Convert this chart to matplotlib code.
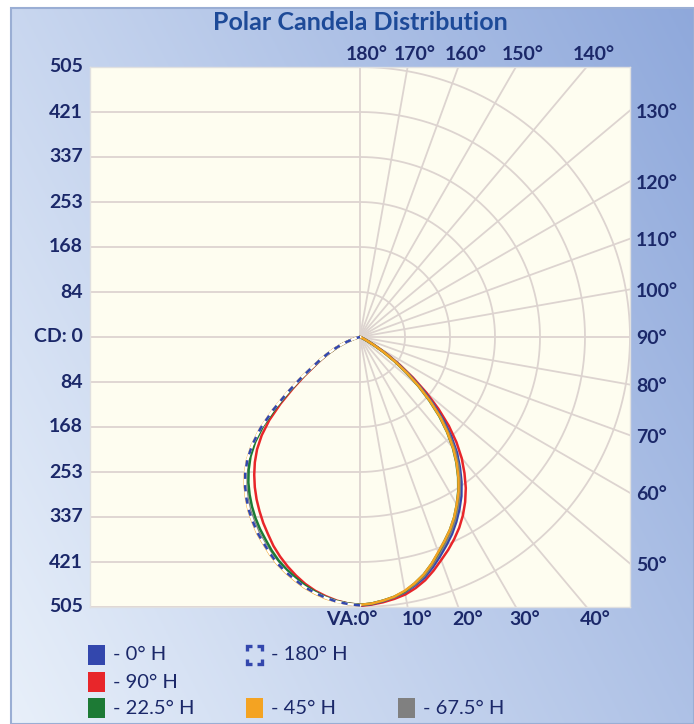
import numpy as np
import matplotlib.pyplot as plt
from matplotlib.patches import Rectangle
from matplotlib.transforms import offset_copy

plt.rcParams['font.family'] = ['Lato', 'DejaVu Sans']

# Vertical angles (deg from nadir), 2.5° steps, and candela per horizontal plane
va = [i * 2.5 for i in range(33)]

# planes drawn on the right half
cd_0 = [502, 500, 496, 491, 485, 476, 466, 452, 437, 422, 407, 390, 372, 353, 331, 307, 282,
        253, 222, 187, 152, 117, 85, 56, 31, 15, 6, 0, 0, 0, 0, 0, 0]
cd_22_5 = [501, 499, 495, 490, 483, 472, 460, 445, 429, 413, 398, 381, 362, 342, 320, 296, 270,
           241, 210, 176, 142, 109, 78, 50, 27, 12, 4, 0, 0, 0, 0, 0, 0]
cd_45 = [501, 499, 495, 490, 482, 472, 460, 445, 428, 413, 398, 381, 362, 343, 321, 297, 271,
         242, 212, 178, 144, 111, 80, 52, 28, 13, 5, 0, 0, 0, 0, 0, 0]
cd_67_5 = [501, 499, 495, 491, 484, 474, 463, 448, 432, 417, 402, 385, 366, 347, 326, 302, 276,
           247, 216, 182, 147, 114, 82, 54, 30, 14, 5, 0, 0, 0, 0, 0, 0]
cd_90 = [503, 501, 498, 494, 489, 481, 471, 458, 444, 431, 417, 402, 385, 366, 345, 321, 296,
         267, 235, 199, 162, 125, 91, 61, 35, 18, 8, 2, 0, 0, 0, 0, 0]

# opposite planes drawn on the left half
cd_180 = [502, 500, 497, 492, 486, 479, 470, 461, 451, 439, 426, 414, 400, 386, 370, 353, 334,
          312, 285, 252, 212, 172, 137, 108, 87, 69, 53, 39, 26, 15, 7, 2, 0]
cd_202_5 = [501, 499, 496, 491, 484, 476, 466, 456, 445, 432, 418, 405, 391, 376, 360, 343, 324,
            303, 277, 245, 205, 166, 133, 105, 85, 67, 51, 38, 25, 14, 7, 2, 0]
cd_225 = [502, 500, 497, 493, 487, 480, 471, 462, 452, 440, 427, 415, 401, 387, 371, 354, 335,
          313, 286, 253, 213, 173, 138, 109, 88, 70, 54, 40, 27, 16, 8, 3, 0]
cd_247_5 = [502, 500, 496, 491, 485, 478, 468, 459, 449, 437, 424, 411, 397, 383, 367, 350, 331,
            309, 282, 249, 209, 169, 135, 106, 86, 68, 52, 38, 25, 14, 7, 2, 0]
cd_270 = [501, 499, 495, 489, 482, 473, 462, 450, 437, 423, 407, 392, 376, 360, 343, 325, 306,
          285, 260, 230, 194, 158, 127, 101, 82, 65, 50, 37, 24, 14, 6, 2, 0]

cd_max = 505
cd_labels = ['505', '421', '337', '253', '168', '84', 'CD: 0',
             '84', '168', '253', '337', '421', '505']
top_angles = [180, 170, 160, 150, 140]
right_angles = [130, 120, 110, 100, 90, 80, 70, 60, 50]
bottom_angles = [0, 10, 20, 30, 40]

legend_labels = ['- 0° H', '- 180° H', '- 90° H', '- 22.5° H', '- 45° H', '- 67.5° H']
legend_colors = ['#3347ad', '#3347ad', '#e8262a', '#1d7a35', '#f4a322', '#808080']

W, H = 694, 724
fig = plt.figure(figsize=(W / 100, H / 100), dpi=100, facecolor='white')

# gradient panel behind everything (pixel coords, y up)
bg = fig.add_axes([0, 0, 1, 1], zorder=-10)
gx, gy = np.meshgrid(np.linspace(0, 1, 300), np.linspace(0, 1, 300))
w = 0.65 * gx + 0.35 * gy
light = np.array([0.91, 0.94, 0.98])
dark = np.array([0.56, 0.66, 0.86])
img = light + w[..., None] * (dark - light)
bg.imshow(img, origin='lower', extent=[11, W, 0, H - 8], aspect='auto')
bg.add_patch(Rectangle((11, 0), W - 11, H - 8, fill=False, ec='#9aaed4', lw=1.5))
bg.set_xlim(0, W)
bg.set_ylim(0, H)
bg.axis('off')

fig.text(360 / W, 1 - 22 / H, 'Polar Candela Distribution', ha='center', va='center',
         color='#1d4a98', fontsize=18, fontweight='bold')

# plot area
ax = fig.add_axes([90 / W, 1 - 607 / H, 540 / W, 540 / H])
ax.set_xlim(-cd_max, cd_max)
ax.set_ylim(-cd_max, cd_max)
ax.set_facecolor('#fefdf0')
ax.set_xticks([])
ax.set_yticks([])
for s in ax.spines.values():
    s.set_color('#e0e0e0')
    s.set_linewidth(1)

grid_kw = dict(color='#ddd4d0', lw=1.3, zorder=1)
step = cd_max / 6
for k in range(-6, 7):
    ax.plot([-cd_max, 0], [k * step, k * step], **grid_kw)
ax.plot([0, 0], [-cd_max, cd_max], **grid_kw)
t = np.radians(np.linspace(0, 180, 361))
for k in range(1, 7):
    ax.plot(k * step * np.sin(t), -k * step * np.cos(t), **grid_kw)
for a in range(10, 180, 10):
    ar = np.radians(a)
    ax.plot([0, 2 * cd_max * np.sin(ar)], [0, -2 * cd_max * np.cos(ar)], **grid_kw)


def side_xy(vals, side):
    th = np.radians(va)
    r = np.array(vals, dtype=float)
    return side * r * np.sin(th), -r * np.cos(th)


def plane_curve(right_vals, left_vals):
    xr, yr = side_xy(right_vals, 1)
    xl, yl = side_xy(left_vals, -1)
    return np.concatenate([xl[::-1], xr]), np.concatenate([yl[::-1], yr])


lw = 1.8
x, y = plane_curve(cd_90, cd_270)
ax.plot(x, y, color=legend_colors[2], lw=lw, zorder=3)
x, y = side_xy(cd_0, 1)
ax.plot(x, y, color=legend_colors[0], lw=lw, zorder=3)
x, y = plane_curve(cd_67_5, cd_247_5)
ax.plot(x, y, color=legend_colors[5], lw=lw, zorder=4)
x, y = plane_curve(cd_22_5, cd_202_5)
ax.plot(x, y, color=legend_colors[3], lw=lw, zorder=5)
x, y = plane_curve(cd_45, cd_225)
ax.plot(x, y, color=legend_colors[4], lw=lw, zorder=6)
# 180° plane: blue dashes over white
x, y = side_xy(cd_180, -1)
ax.plot(x, y, color='white', lw=lw, zorder=7)
ax.plot(x, y, color=legend_colors[1], lw=lw, zorder=8, linestyle=(0, (2.5, 2.5)))

# axis labels
lbl = dict(color='#1b2869', fontsize=14, fontweight='bold', clip_on=False)
for i, lab in enumerate(cd_labels):
    ax.text(-cd_max, cd_max - i * step, lab, ha='right', va='center',
            transform=offset_copy(ax.transData, fig, x=-7, y=0, units='dots'), **lbl)
for a in top_angles:
    ax.text(cd_max * np.tan(np.radians(180 - a)), cd_max, f'{a}°', ha='center', va='bottom',
            transform=offset_copy(ax.transData, fig, x=7, y=4, units='dots'), **lbl)
for a in right_angles:
    ax.text(cd_max, cd_max * np.tan(np.radians(a - 90)), f'{a}°', ha='left', va='center',
            transform=offset_copy(ax.transData, fig, x=6, y=-2, units='dots'), **lbl)
for a in bottom_angles:
    if a == 0:
        ax.text(0, -cd_max, 'VA:0°', ha='right', va='top',
                transform=offset_copy(ax.transData, fig, x=17, y=-4, units='dots'), **lbl)
    else:
        ax.text(cd_max * np.tan(np.radians(a)), -cd_max, f'{a}°', ha='center', va='top',
                transform=offset_copy(ax.transData, fig, x=9, y=-4, units='dots'), **lbl)

# legend, drawn in pixel coords on the background panel
cols = [88, 246, 398]
rows = [655, 682, 708]
slots = [(0, 0), (1, 0), (0, 1), (0, 2), (1, 2), (2, 2)]
for (c, r), lab, col in zip(slots, legend_labels, legend_colors):
    x0, yc = cols[c], H - rows[r]
    if lab == '- 180° H':
        # dashed square drawn as four corner brackets
        x1, x2, y1, y2, arm = x0 + 1, x0 + 16, yc - 9, yc + 9, 5
        for cx, cy, sx, sy in [(x1, y1, 1, 1), (x2, y1, -1, 1), (x1, y2, 1, -1), (x2, y2, -1, -1)]:
            bg.plot([cx + sx * arm, cx, cx], [cy, cy, cy + sy * arm], color=col, lw=2.4,
                    solid_joinstyle='miter', solid_capstyle='butt')
    else:
        bg.add_patch(Rectangle((x0, yc - 10), 17, 20, fc=col, ec='none'))
    bg.text(x0 + 25, yc, lab, ha='left', va='center', color='#1b2869', fontsize=14.5)

fig.savefig('out.png', dpi=100, facecolor=fig.get_facecolor())
